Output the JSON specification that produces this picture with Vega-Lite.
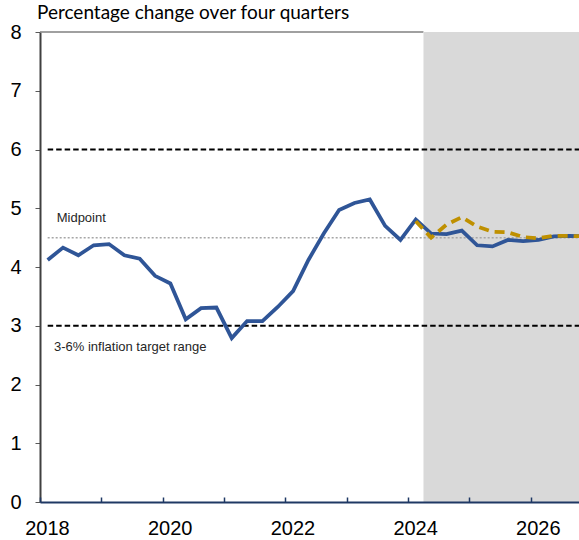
{
  "$schema": "https://vega.github.io/schema/vega-lite/v6.json",
  "width": 539,
  "height": 470,
  "autosize": {"type": "none"},
  "padding": {"left": 40, "top": 32, "right": 0, "bottom": 38},
  "background": "white",
  "config": {"view": {"stroke": null}, "font": "Liberation Sans"},
  "title": {
    "text": "Percentage change over four quarters",
    "anchor": "start",
    "frame": "group",
    "font": "Lato",
    "fontSize": 19,
    "fontWeight": "normal",
    "color": "#000000",
    "baseline": "alphabetic",
    "offset": -15.5,
    "dx": -3
  },
  "datasets": {
    "actual": [
      {"t": 2018.00, "v": 4.12}, {"t": 2018.25, "v": 4.33}, {"t": 2018.50, "v": 4.20}, {"t": 2018.75, "v": 4.37},
      {"t": 2019.00, "v": 4.39}, {"t": 2019.25, "v": 4.20}, {"t": 2019.50, "v": 4.14}, {"t": 2019.75, "v": 3.85},
      {"t": 2020.00, "v": 3.72}, {"t": 2020.25, "v": 3.11}, {"t": 2020.50, "v": 3.30}, {"t": 2020.75, "v": 3.31},
      {"t": 2021.00, "v": 2.79}, {"t": 2021.25, "v": 3.08}, {"t": 2021.50, "v": 3.08}, {"t": 2021.75, "v": 3.32},
      {"t": 2022.00, "v": 3.59}, {"t": 2022.25, "v": 4.12}, {"t": 2022.50, "v": 4.57}, {"t": 2022.75, "v": 4.97},
      {"t": 2023.00, "v": 5.09}, {"t": 2023.25, "v": 5.15}, {"t": 2023.50, "v": 4.70}, {"t": 2023.75, "v": 4.46},
      {"t": 2024.00, "v": 4.81}, {"t": 2024.25, "v": 4.57}, {"t": 2024.50, "v": 4.56}, {"t": 2024.75, "v": 4.62},
      {"t": 2025.00, "v": 4.37}, {"t": 2025.25, "v": 4.35}, {"t": 2025.50, "v": 4.46}, {"t": 2025.75, "v": 4.44},
      {"t": 2026.00, "v": 4.46}, {"t": 2026.25, "v": 4.52}, {"t": 2026.50, "v": 4.53}, {"t": 2026.75, "v": 4.52}
    ],
    "previous": [
      {"t": 2024.00, "v": 4.78}, {"t": 2024.25, "v": 4.50}, {"t": 2024.50, "v": 4.72}, {"t": 2024.75, "v": 4.85},
      {"t": 2025.00, "v": 4.69}, {"t": 2025.25, "v": 4.60}, {"t": 2025.50, "v": 4.59}, {"t": 2025.75, "v": 4.51},
      {"t": 2026.00, "v": 4.49}, {"t": 2026.25, "v": 4.53}, {"t": 2026.50, "v": 4.53}, {"t": 2026.75, "v": 4.52}
    ],
    "shade": [{"t": 2024.125, "t2": 2026.9, "v": 0, "v2": 8}],
    "range": [{"t": 2018.0, "t2": 2026.9, "v": 6}, {"t": 2018.0, "t2": 2026.9, "v": 3}],
    "mid": [{"t": 2018.0, "t2": 2026.9, "v": 4.5}],
    "top": [{"t": 2017.875, "t2": 2024.125, "v": 8}],
    "notes": [
      {"t": 2018.147, "v": 4.771, "label": "Midpoint"},
      {"t": 2018.103, "v": 2.575, "label": "3-6% inflation target range"}
    ]
  },
  "encoding": {
    "x": {
      "field": "t",
      "type": "quantitative",
      "scale": {"domain": [2017.875, 2026.66], "nice": false, "zero": false},
      "axis": {
        "title": null,
        "values": [2017.875, 2018.875, 2019.875, 2020.875, 2021.875, 2022.875, 2023.875, 2024.875, 2025.875],
        "labelExpr": "round(datum.value) % 2 === 0 ? '' + round(datum.value) : ''",
        "labelOffset": 7,
        "labelFlush": false,
        "labelOverlap": false,
        "labelBound": false,
        "labelFontSize": 20,
        "labelColor": "#000000",
        "labelPadding": 21,
        "tickSize": -5,
        "tickColor": "#1F3864",
        "tickWidth": 1.5,
        "domainColor": "#1F3864",
        "domainWidth": 2,
        "grid": false,
        "zindex": 1
      }
    },
    "y": {
      "field": "v",
      "type": "quantitative",
      "scale": {"domain": [0, 8], "nice": false, "zero": false},
      "axis": {
        "title": null,
        "values": [0, 1, 2, 3, 4, 5, 6, 7, 8],
        "labelFontSize": 20,
        "labelColor": "#000000",
        "labelPadding": 14,
        "tickSize": 5,
        "tickColor": "#595959",
        "domainColor": "#404040",
        "domainWidth": 2,
        "grid": false
      }
    }
  },
  "layer": [
    {
      "data": {"name": "top"},
      "mark": {"type": "rule", "color": "#808080", "strokeWidth": 1.5},
      "encoding": {"x2": {"field": "t2"}}
    },
    {
      "data": {"name": "shade"},
      "mark": {"type": "rect", "color": "#d9d9d9", "clip": true},
      "encoding": {"x2": {"field": "t2"}, "y2": {"field": "v2"}}
    },
    {
      "data": {"name": "mid"},
      "mark": {"type": "rule", "color": "#a6a6a6", "strokeWidth": 1.5, "strokeDash": [2, 2], "clip": true},
      "encoding": {"x2": {"field": "t2"}}
    },
    {
      "data": {"name": "range"},
      "mark": {"type": "rule", "color": "#000000", "strokeWidth": 2, "strokeDash": [5.5, 3], "clip": true},
      "encoding": {"x2": {"field": "t2"}}
    },
    {
      "data": {"name": "actual"},
      "mark": {"type": "line", "color": "#2F5597", "strokeWidth": 3.75, "clip": true},
      "encoding": {}
    },
    {
      "data": {"name": "previous"},
      "mark": {"type": "line", "color": "#BF9000", "strokeWidth": 3.75, "strokeDash": [10, 6], "clip": true},
      "encoding": {}
    },
    {
      "data": {"name": "notes"},
      "mark": {"type": "text", "align": "left", "baseline": "alphabetic", "fontSize": 13, "color": "#262626", "font": "Liberation Sans"},
      "encoding": {"text": {"field": "label"}}
    }
  ]
}
